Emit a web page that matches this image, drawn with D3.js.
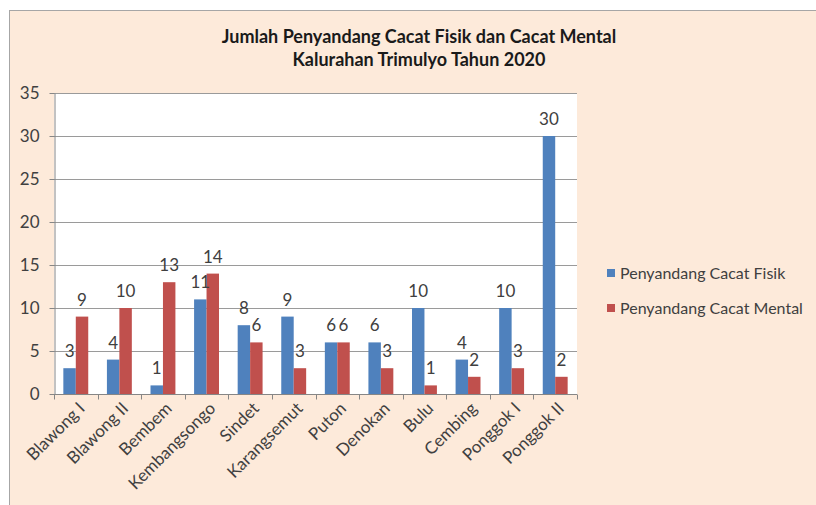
<!DOCTYPE html>
<html>
<head>
<meta charset="utf-8">
<script src="https://cdn.jsdelivr.net/npm/d3@7"></script>
<style>
  body { margin: 0; background: #fff; }
  svg { display: block; font-family: Lato, "Open Sans", sans-serif; }
  .axis path, .axis line { stroke: #868686; }
  .axis text { fill: #404040; }
  .grid line { stroke: #9a9a9a; }
</style>
</head>
<body>
<svg id="chart" width="816" height="505"></svg>
<script>
// data
var villages = ["Blawong I", "Blawong II", "Bembem", "Kembangsongo", "Sindet", "Karangsemut",
                "Puton", "Denokan", "Bulu", "Cembing", "Ponggok I", "Ponggok II"];
var fisik  = [3, 4, 1, 11, 8, 9, 6, 6, 10, 4, 10, 30];
var mental = [9, 10, 13, 14, 6, 3, 6, 3, 1, 2, 3, 2];
var seriesNames = ["Penyandang Cacat Fisik", "Penyandang Cacat Mental"];
var seriesColors = ["#4f81bd", "#c0504d"];
var yTicks = [0, 5, 10, 15, 20, 25, 30, 35];
var titleLines = ["Jumlah Penyandang Cacat Fisik dan Cacat Mental", "Kalurahan Trimulyo Tahun 2020"];

var svg = d3.select("#chart");
var plot = {left: 54, right: 577, top: 93, bottom: 394};

// chart area background + border
svg.append("rect")
   .attr("x", 9.5).attr("y", 10.5)
   .attr("width", 820).attr("height", 510)
   .attr("fill", "#fdeada")
   .attr("stroke", "#a6a6a6");

// title
svg.append("g").selectAll("text")
   .data(titleLines)
   .enter().append("text")
   .attr("x", 419)
   .attr("y", (d, i) => 43 + i * 23)
   .attr("text-anchor", "middle")
   .attr("font-size", 18)
   .attr("font-weight", "bold")
   .attr("fill", "#1a1a1a")
   .text(d => d);

var x0 = d3.scaleBand()
           .domain(villages)
           .range([plot.left, plot.right])
           .paddingInner(0)
           .paddingOuter(0);
// gap width 150%: two bars take 2/3.5 of a category
var x1 = d3.scaleBand()
           .domain([0, 1])
           .range([x0.bandwidth() * 0.75 / 3.5, x0.bandwidth() * (1 - 0.75 / 3.5)]);
var y = d3.scaleLinear()
          .domain([0, 35])
          .range([plot.bottom, plot.top]);

// plot area
svg.append("rect")
   .attr("x", plot.left).attr("y", plot.top)
   .attr("width", plot.right - plot.left).attr("height", plot.bottom - plot.top)
   .attr("fill", "#fff");

// gridlines
svg.append("g")
   .attr("class", "grid")
   .selectAll("line")
   .data(yTicks.filter(d => d > 0))
   .enter().append("line")
   .attr("x1", plot.left).attr("x2", plot.right)
   .attr("y1", d => Math.round(y(d)) + 0.5)
   .attr("y2", d => Math.round(y(d)) + 0.5);

// bars
var rows = villages.map((v, i) => ({name: v, values: [fisik[i], mental[i]]}));
var groups = svg.append("g")
   .selectAll("g")
   .data(rows)
   .enter().append("g")
   .attr("transform", d => "translate(" + x0(d.name) + ",0)");

groups.selectAll("rect")
   .data(d => d.values.map((v, k) => ({k: k, v: v})))
   .enter().append("rect")
   .attr("x", d => x1(d.k))
   .attr("width", x1.bandwidth())
   .attr("y", d => y(d.v))
   .attr("height", d => y(0) - y(d.v))
   .attr("fill", d => seriesColors[d.k]);

groups.selectAll("text")
   .data(d => d.values.map((v, k) => ({k: k, v: v})))
   .enter().append("text")
   .attr("x", d => x1(d.k) + x1.bandwidth() / 2)
   .attr("y", d => y(d.v) - 11)
   .attr("text-anchor", "middle")
   .attr("font-size", 17)
   .attr("fill", "#404040")
   .text(d => d.v);

// y axis
var yAxisG = svg.append("g")
   .attr("class", "axis")
   .attr("transform", "translate(" + (plot.left + 0.5) + ",0)")
   .call(d3.axisLeft(y).tickValues(yTicks).tickSize(5).tickSizeOuter(0).tickPadding(10));
yAxisG.selectAll("text").attr("font-size", 17).attr("font-family", "Lato, sans-serif");

// x axis: ticks between categories
var xAxisG = svg.append("g")
   .attr("class", "axis")
   .attr("transform", "translate(0," + (plot.bottom + 0.5) + ")");
xAxisG.append("line")
   .attr("x1", plot.left).attr("x2", plot.right)
   .attr("stroke", "#868686");
xAxisG.selectAll(".tick-x")
   .data(d3.range(villages.length + 1))
   .enter().append("line")
   .attr("class", "tick-x")
   .attr("x1", i => Math.round(plot.left + i * x0.step()) + 0.5)
   .attr("x2", i => Math.round(plot.left + i * x0.step()) + 0.5)
   .attr("y1", 0).attr("y2", 5);
xAxisG.selectAll("text")
   .data(villages)
   .enter().append("text")
   .attr("text-anchor", "end")
   .attr("font-size", 17)
   .attr("fill", "#404040")
   .attr("transform", d => "translate(" + (x0(d) + x0.bandwidth() / 2 + 10) + ",15) rotate(-45)")
   .text(d => d);

// legend
var legend = svg.append("g")
   .selectAll("g")
   .data(seriesNames)
   .enter().append("g")
   .attr("transform", (d, i) => "translate(607," + (269 + i * 35) + ")");
legend.append("rect")
   .attr("width", 8).attr("height", 8)
   .attr("fill", (d, i) => seriesColors[i]);
legend.append("text")
   .attr("x", 13).attr("y", 10)
   .attr("font-size", 16)
   .attr("fill", "#404040")
   .text(d => d);
</script>
</body>
</html>
